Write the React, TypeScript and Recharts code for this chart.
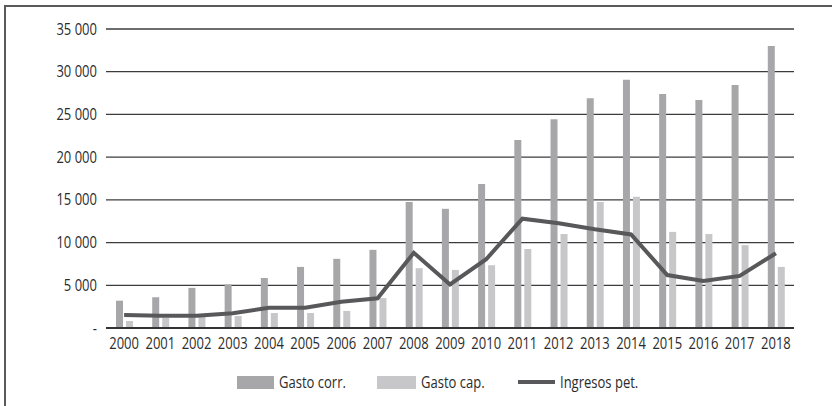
import React from "react";
import {
  ComposedChart,
  Bar,
  Line,
  XAxis,
  YAxis,
  CartesianGrid,
  Legend,
} from "recharts";

const years = [
  "2000", "2001", "2002", "2003", "2004", "2005", "2006", "2007", "2008", "2009",
  "2010", "2011", "2012", "2013", "2014", "2015", "2016", "2017", "2018",
];
const gastoCorr = [
  3200, 3600, 4700, 5100, 5850, 7150, 8100, 9150, 14750, 13950,
  16850, 22000, 24450, 26900, 29050, 27400, 26700, 28450, 33000,
];
const gastoCap = [
  820, 1200, 1300, 1400, 1750, 1750, 2000, 3500, 7000, 6800,
  7350, 9250, 11000, 14750, 15350, 11250, 11000, 9700, 7150,
];
const ingresosPet = [
  1520, 1440, 1440, 1720, 2380, 2380, 3080, 3470, 8800, 5100,
  8050, 12800, 12250, 11550, 10950, 6200, 5500, 6100, 8750,
];
const yTicks = [0, 5000, 10000, 15000, 20000, 25000, 30000, 35000];

const data = years.map((year, i) => ({
  year,
  corr: gastoCorr[i],
  cap: gastoCap[i],
  pet: ingresosPet[i],
}));

const FONT = '"Open Sans", sans-serif';
const FS = 15.5;
const SQUEEZE = 0.84;
const TXT = "#2b2b2b";
const DARK = "#a7a7a9";
const LIGHT = "#c7c7c9";
const LINE = "#58585a";

const fmt = (v: number) =>
  v === 0 ? "-" : String(v).replace(/\B(?=(\d{3})+(?!\d))/g, " ");

// narrow text: the original uses a condensed face
function NarrowTick(props: any) {
  const { x, y, payload, textAnchor, isY } = props;
  const label = isY ? fmt(payload.value) : payload.value;
  return (
    <g transform={`translate(${x},${y})`}>
      <text
        transform={`scale(${SQUEEZE},1)`}
        textAnchor={textAnchor}
        dy={isY ? "0.36em" : "0.71em"}
        fill={TXT}
        fontSize={FS}
        fontFamily={FONT}
      >
        {label}
      </text>
    </g>
  );
}

function NarrowText({ children, width }: { children: string; width: number }) {
  return (
    <span style={{ display: "inline-block", width, whiteSpace: "nowrap" }}>
      <span
        style={{
          display: "inline-block",
          transform: `scaleX(${SQUEEZE})`,
          transformOrigin: "left center",
        }}
      >
        {children}
      </span>
    </span>
  );
}

function LegendBox() {
  const item = { display: "flex", alignItems: "center", gap: 5 };
  return (
    <div
      style={{
        display: "flex",
        alignItems: "center",
        paddingLeft: 237,
        fontSize: FS,
        lineHeight: "16px",
        color: TXT,
        fontFamily: FONT,
      }}
    >
      <div style={item}>
        <span style={{ width: 37, height: 13, background: DARK, display: "inline-block" }} />
        <NarrowText width={98}>Gasto corr.</NarrowText>
      </div>
      <div style={item}>
        <span style={{ width: 39, height: 13, background: LIGHT, display: "inline-block" }} />
        <NarrowText width={97}>Gasto cap.</NarrowText>
      </div>
      <div style={item}>
        <span style={{ width: 37, height: 4, background: LINE, display: "inline-block" }} />
        <NarrowText width={100}>Ingresos pet.</NarrowText>
      </div>
    </div>
  );
}

export default function App() {
  return (
    <div
      style={{
        position: "fixed",
        left: 0,
        top: 0,
        width: 832,
        height: 406,
        background: "#fff",
        fontFamily: FONT,
      }}
    >
      <div
        style={{
          position: "absolute",
          left: 4,
          top: 5,
          right: -10,
          bottom: -10,
          borderLeft: "2px solid #5a5a5a",
          borderTop: "2px solid #5a5a5a",
        }}
      />
      <ComposedChart
        width={832}
        height={406}
        data={data}
        margin={{ top: 29, right: 38, left: 0, bottom: 48 }}
        barSize={7}
        barGap={3}
      >
        <CartesianGrid vertical={false} stroke="#3c3c3c" strokeWidth={1.3} />
        <XAxis
          dataKey="year"
          height={30}
          tickLine={false}
          tickSize={0}
          tickMargin={10}
          axisLine={{ stroke: "#333", strokeWidth: 2 }}
          tick={<NarrowTick />}
          interval={0}
        />
        <YAxis
          width={106}
          domain={[0, 35000]}
          ticks={yTicks}
          axisLine={false}
          tickLine={false}
          tickSize={0}
          tickMargin={9}
          tick={<NarrowTick isY />}
        />
        <Bar dataKey="corr" name="Gasto corr." fill={DARK} isAnimationActive={false} />
        <Bar dataKey="cap" name="Gasto cap." fill={LIGHT} isAnimationActive={false} />
        <Line
          dataKey="pet"
          name="Ingresos pet."
          stroke={LINE}
          strokeWidth={4}
          dot={false}
          type="linear"
          isAnimationActive={false}
        />
        <Legend
          layout="horizontal"
          align="center"
          verticalAlign="middle"
          wrapperStyle={{ top: 374, left: 0, width: 832 }}
          content={() => <LegendBox />}
        />
      </ComposedChart>
    </div>
  );
}
